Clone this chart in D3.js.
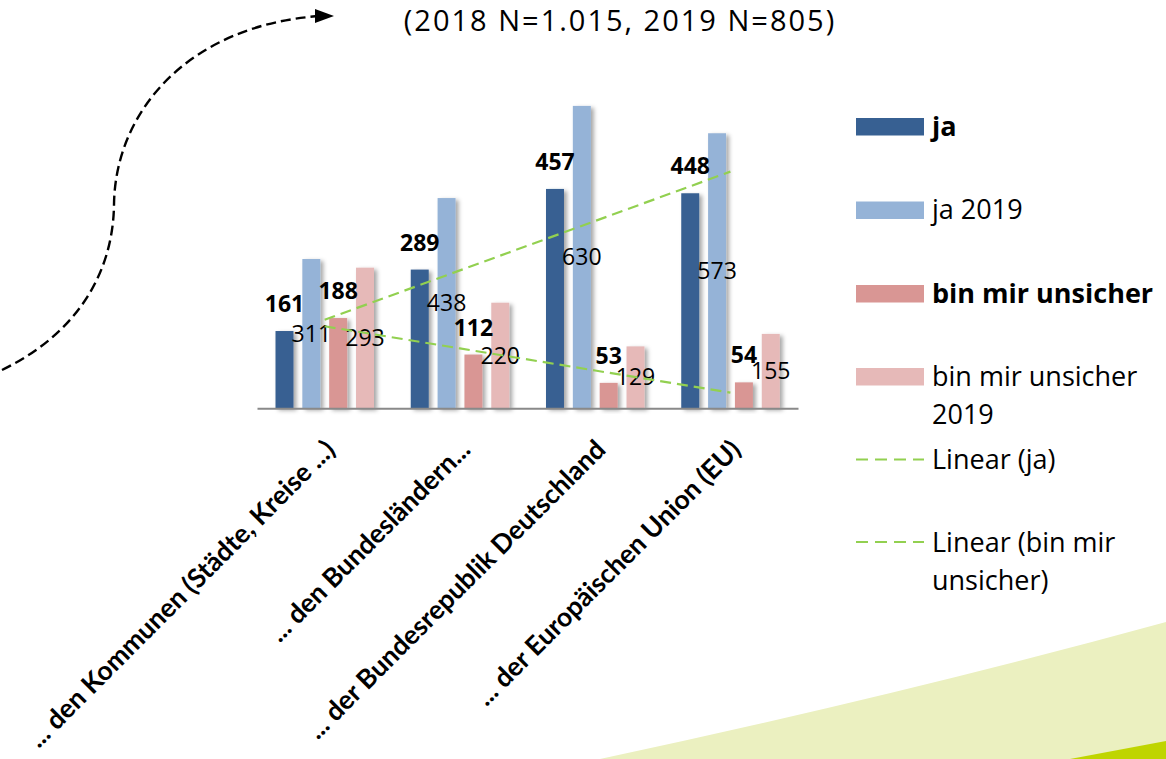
<!DOCTYPE html>
<meta charset="utf-8">
<style>
  body { margin: 0; background: #fff; }
  svg { display: block; font-family: "Open Sans", sans-serif; }
</style>
<body>
<script src="https://cdn.jsdelivr.net/npm/d3@7"></script>
<script>

  // chart data
  var categories = ["... den Kommunen (Städte, Kreise ...)", "... den Bundesländern...",
    "... der Bundesrepublik Deutschland", "... der Europäischen Union (EU)"];
  var seriesNames = ["ja", "ja 2019", "bin mir unsicher", "bin mir unsicher 2019"];
  var ja = [161, 289, 457, 448];
  var ja2019 = [311, 438, 630, 573];
  var unsicher = [188, 112, 53, 54];
  var unsicher2019 = [293, 220, 129, 155];
  var title = "(2018 N=1.015, 2019 N=805)";

  var colors = ["#376092", "#95B3D7", "#D99694", "#E6B9B8"];
  var trendColor = "#92D050";

  var width = 1166, height = 759;
  var svg = d3.select("body").append("svg")
    .attr("width", width)
    .attr("height", height);

  var defs = svg.append("defs");
  var shadow = defs.append("filter").attr("id", "shadow")
    .attr("x", "-30%").attr("y", "-10%").attr("width", "180%").attr("height", "130%");
  shadow.append("feDropShadow")
    .attr("dx", 3).attr("dy", 2).attr("stdDeviation", 2)
    .attr("flood-color", "#000").attr("flood-opacity", 0.35);

  // green background shapes in the corner
  svg.append("path")
    .attr("d", "M600,759 Q900,695 1166,622 L1166,759 Z")
    .attr("fill", "#EBF0C0");
  svg.append("path")
    .attr("d", "M1070,759 L1166,741 L1166,759 Z")
    .attr("fill", "#BFD500");

  // dashed arrow
  svg.append("path")
    .attr("d", "M2,370 C80,332 113,270 114,205 C115,110 190,25 320,16")
    .attr("fill", "none")
    .attr("stroke", "#000")
    .attr("stroke-width", 2.4)
    .attr("stroke-dasharray", "10,5");
  svg.append("path")
    .attr("d", "M315,9 L334,16 L315,23 Z")
    .attr("fill", "#000");

  // title
  svg.append("text")
    .attr("x", 620).attr("y", 30.5)
    .attr("text-anchor", "middle")
    .style("font-size", "29px")
    .style("letter-spacing", "2px")
    .text(title);

  // scales
  var x0 = d3.scaleBand().domain(categories).range([257, 798]).padding(0);
  var x1 = d3.scaleBand().domain(seriesNames).range([18.5, 117]).paddingInner(0.33).paddingOuter(0);
  var y = d3.scaleLinear().domain([0, 700]).range([408.3, 408.3 - 700 * 0.48]);

  var rows = categories.map(function (c, i) {
    return { cat: c, values: [ja[i], ja2019[i], unsicher[i], unsicher2019[i]] };
  });

  var groups = svg.selectAll(".grp").data(rows).enter().append("g")
    .attr("class", "grp")
    .attr("transform", function (d) { return "translate(" + x0(d.cat) + ",0)"; });

  groups.selectAll("rect")
    .data(function (d) { return d.values.map(function (v, k) { return { k: k, v: v }; }); })
    .enter().append("rect")
    .attr("x", function (d) { return x1(seriesNames[d.k]); })
    .attr("width", x1.bandwidth())
    .attr("y", function (d) { return y(d.v); })
    .attr("height", function (d) { return y(0) - y(d.v); })
    .attr("fill", function (d) { return colors[d.k]; })
    .attr("filter", "url(#shadow)");

  // x axis
  var gx = svg.append("g")
    .attr("transform", "translate(0," + y(0) + ")")
    .call(d3.axisBottom(x0).tickSize(0).tickSizeOuter(0));
  gx.select(".domain").attr("stroke", "#898989").attr("stroke-width", 2);
  gx.selectAll("text")
    .attr("x", 0).attr("y", 0).attr("dy", 0)
    .attr("transform", "translate(12,43) rotate(-45)")
    .attr("text-anchor", "end")
    .attr("fill", "#000")
    .style("font-family", "Lato, sans-serif")
    .style("font-size", "26.5px")
    .style("font-weight", "bold");

  // linear trend lines (least squares over category index)
  function fit(vals) {
    var n = vals.length, mx = (n + 1) / 2, my = d3.mean(vals);
    var num = 0, den = 0;
    vals.forEach(function (v, i) { num += (i + 1 - mx) * (v - my); den += (i + 1 - mx) * (i + 1 - mx); });
    var b = num / den;
    return vals.map(function (v, i) { return { cat: categories[i], v: my + b * (i + 1 - mx) }; });
  }
  var line = d3.line()
    .x(function (d) { return x0(d.cat) + x0.bandwidth() / 2; })
    .y(function (d) { return y(d.v); });
  [ja, unsicher].forEach(function (vals) {
    svg.append("path")
      .datum(fit(vals))
      .attr("d", line)
      .attr("fill", "none")
      .attr("stroke", trendColor)
      .attr("stroke-width", 2.2)
      .attr("stroke-dasharray", "11,6");
  });

  // data labels: 2018 bold above bar, 2019 regular centred in bar
  groups.selectAll(".lbl")
    .data(function (d) { return d.values.map(function (v, k) { return { k: k, v: v }; }); })
    .enter().append("text")
    .attr("class", "lbl")
    .attr("x", function (d) { return x1(seriesNames[d.k]) + x1.bandwidth() / 2; })
    .attr("y", function (d) {
      return (d.k % 2 === 0) ? y(d.v) - 19 : (y(0) + y(d.v)) / 2 + 8;
    })
    .attr("text-anchor", "middle")
    .style("font-size", "23px")
    .style("font-weight", function (d) { return d.k % 2 === 0 ? "bold" : "normal"; })
    .text(function (d) { return d.v; });

  // legend
  var legend = svg.append("g");
  var legendRows = [
    { y: 135.5, kind: "bar", k: 0, lines: ["ja"], bold: true },
    { y: 219, kind: "bar", k: 1, lines: ["ja 2019"], bold: false },
    { y: 302.5, kind: "bar", k: 2, lines: ["bin mir unsicher"], bold: true },
    { y: 385.5, kind: "bar", k: 3, lines: ["bin mir unsicher", "2019"], bold: false },
    { y: 469, kind: "line", lines: ["Linear (ja)"], bold: false },
    { y: 551.5, kind: "line", lines: ["Linear (bin mir", "unsicher)"], bold: false }
  ];
  legendRows.forEach(function (r) {
    if (r.kind === "bar") {
      legend.append("rect")
        .attr("x", 856).attr("y", r.y - 17.5)
        .attr("width", 68).attr("height", 17.5)
        .attr("fill", colors[r.k]);
    } else {
      legend.append("line")
        .attr("x1", 856).attr("x2", 924)
        .attr("y1", r.y - 9.5).attr("y2", r.y - 9.5)
        .attr("stroke", trendColor)
        .attr("stroke-width", 2)
        .attr("stroke-dasharray", "12,7");
    }
    var t = legend.append("text")
      .attr("x", 932).attr("y", r.y)
      .style("font-size", "27px")
      .style("font-weight", r.bold ? "bold" : "normal");
    r.lines.forEach(function (s, i) {
      t.append("tspan").attr("x", 932).attr("dy", i === 0 ? 0 : 38).text(s);
    });
  });

</script>
</body>
